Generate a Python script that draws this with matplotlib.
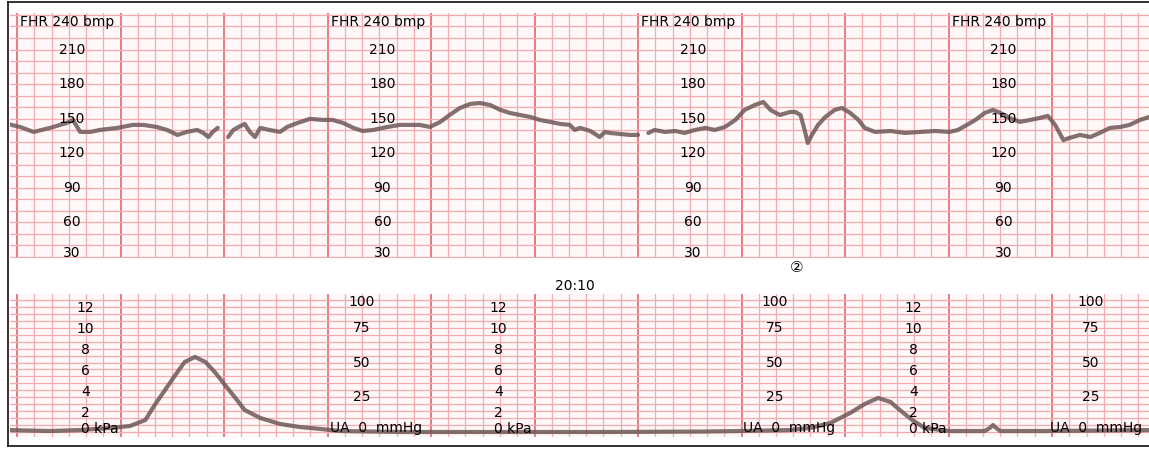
import numpy as np
import matplotlib
matplotlib.use('Agg')
import matplotlib.pyplot as plt
from matplotlib.lines import Line2D
from matplotlib.ticker import MultipleLocator

# FHR trace (time in minutes, bpm); nan = signal gap
fhr_t = [-0.09, 0.03, 0.16, 0.32, 0.48, 0.54, 0.61, 0.71, 0.80, 0.97, 1.12, 1.22, 1.35, 1.45,
         1.55, 1.64, 1.74, 1.80, 1.85, 1.89, 1.94, 1.99,
         2.04, 2.09, 2.16, 2.20, 2.25, 2.30, 2.35, 2.44, 2.54, 2.61, 2.71, 2.83, 2.96, 3.05,
         3.15, 3.25, 3.34, 3.44, 3.58, 3.70, 3.89, 3.99, 4.09, 4.18, 4.28, 4.38, 4.47, 4.57,
         4.67, 4.76, 4.86, 4.96, 5.05, 5.15, 5.25, 5.34, 5.39, 5.44, 5.54, 5.63, 5.68, 5.73,
         5.83, 5.92, 6.00, 6.05,
         6.10, 6.16, 6.26, 6.36, 6.45, 6.55, 6.65, 6.74, 6.84, 6.94, 7.03, 7.13, 7.21, 7.28,
         7.37, 7.47, 7.52, 7.57, 7.61, 7.64, 7.68, 7.74, 7.81, 7.90, 7.97, 8.05, 8.13, 8.19,
         8.29, 8.44, 8.58, 8.73, 8.87, 9.01, 9.09, 9.16, 9.26, 9.35, 9.43, 9.50, 9.59, 9.69,
         9.79, 9.88, 9.96, 10.03, 10.11, 10.17, 10.27, 10.37, 10.46, 10.56, 10.66, 10.75,
         10.85, 10.94]
fhr_bpm = [145.4, 142.8, 138.5, 142.0, 146.3, 148.9, 138.5, 138.5, 140.2, 142.0, 144.6, 144.6,
           142.8, 140.2, 135.9, 138.5, 140.2, 137.6, 134.1, 138.5, 142.0, np.nan,
           134.1, 140.2, 143.7, 145.4, 138.5, 134.1, 142.0, 140.2, 138.5, 142.8, 146.3, 149.8,
           148.9, 148.9, 146.3, 142.0, 139.3, 140.2, 142.8, 144.6, 144.6, 142.8, 147.2, 153.2,
           159.3, 162.8, 163.6, 161.9, 157.6, 155.0, 153.2, 151.5, 148.9, 147.2, 145.4, 144.6,
           140.2, 142.0, 139.3, 134.1, 138.5, 137.6, 136.7, 135.9, 135.9, np.nan,
           137.6, 140.2, 138.5, 139.3, 137.6, 140.2, 142.0, 140.2, 142.8, 148.9, 157.6, 161.9,
           164.5, 157.6, 153.2, 155.8, 155.8, 153.2, 140.2, 128.9, 135.9, 144.6, 151.5, 157.6,
           159.3, 155.0, 148.9, 142.0, 138.5, 139.3, 137.6, 138.5, 139.3, 138.5, 140.2, 143.7,
           148.9, 155.0, 157.6, 155.0, 150.6, 147.2, 148.9, 150.6, 152.4, 144.6, 131.5, 133.3,
           135.9, 134.1, 137.6, 142.0, 142.8, 144.6, 148.9, 151.5]

# UA trace (time in minutes, mmHg)
ua_t = [-0.09, 0.32, 0.61, 0.90, 1.09, 1.24, 1.33, 1.43, 1.53, 1.62, 1.72, 1.82, 1.91, 2.01,
        2.11, 2.20, 2.35, 2.54, 2.73, 2.93, 3.12, 3.70, 4.67, 5.63, 6.60, 6.99, 7.47, 7.66,
        7.86, 8.05, 8.19, 8.32, 8.44, 8.53, 8.65, 8.77, 9.01, 9.35, 9.40, 9.43, 9.46, 9.50,
        9.98, 10.94]
ua_mmhg = [1.4, 0.7, 1.4, 2.9, 4.3, 8.6, 19.4, 30.2, 41.0, 50.4, 54.0, 50.4, 43.2, 33.8,
           24.5, 15.8, 10.1, 5.8, 3.6, 2.2, 0.7, 0.0, 0.0, 0.0, 0.3, 0.7, 1.4, 2.9,
           6.5, 13.7, 20.1, 24.5, 21.6, 15.8, 8.6, 2.9, 0.7, 0.7, 2.9, 5.0, 2.9, 0.7,
           0.7, 1.4]

fhr_scale = [210, 180, 150, 120, 90, 60, 30]
fhr_label_start = [0, 3, 6, 9]
kpa_scale = [12, 10, 8, 6, 4, 2]
kpa_label_at = [0.66, 4.65, 8.66]
mmhg_scale = [100, 75, 50, 25]
mmhg_label_at = [3.33, 7.32, 10.37]
ua_label_start = [3.02, 7.01, 9.98]

W, H = 1149, 449
MINOR = '#f3aab0'
MAJOR = '#e7707c'
TRACE = '#6e5858'
BG = '#fff8f8'

fig = plt.figure(figsize=(W / 100, H / 100), dpi=100, facecolor='white')


def px_axes(x0, y0, x1, y1):
    return fig.add_axes([x0 / W, 1 - y1 / H, (x1 - x0) / W, (y1 - y0) / H])


def px_to_min(x):
    return (x - 17) / 103.5


def paper(ax, ystep):
    ax.set_facecolor(BG)
    ax.xaxis.set_major_locator(MultipleLocator(1))
    ax.xaxis.set_minor_locator(MultipleLocator(1 / 6))
    ax.yaxis.set_major_locator(MultipleLocator(ystep))
    ax.yaxis.set_minor_locator(MultipleLocator(ystep))
    ax.grid(which='minor', color=MINOR, lw=0.9)
    ax.grid(which='major', axis='y', color=MINOR, lw=0.9)
    ax.grid(which='major', axis='x', color=MAJOR, lw=1.3)
    ax.set_axisbelow(True)
    ax.tick_params(which='both', length=0, labelleft=False, labelbottom=False)
    for s in ax.spines.values():
        s.set_visible(False)


xlim = (px_to_min(10), px_to_min(1149))

# ---- FHR panel
ax1 = px_axes(10, 13, 1149, 258)
paper(ax1, 10)
ax1.set_xlim(*xlim)
ax1.set_ylim(29.1, 241.7)
ax1.plot(fhr_t, fhr_bpm, color=TRACE, lw=3.0, alpha=0.85, solid_capstyle='round', zorder=2)
for t0 in fhr_label_start:
    ax1.text(t0 + 0.03, 234, 'FHR 240 bmp', fontsize=10, va='center', ha='left', zorder=3)
    for v in fhr_scale:
        yy = v if v > 30 else 33.5
        ax1.text(t0 + 0.53, yy, str(v), fontsize=10, va='center', ha='center', zorder=3)

# ---- UA panel
ax2 = px_axes(10, 294, 1149, 437)
paper(ax2, 5)
ax2.set_xlim(*xlim)
ax2.set_ylim(-3.6, 99.3)
ax2.plot(ua_t, ua_mmhg, color=TRACE, lw=3.0, alpha=0.85, solid_capstyle='round', zorder=2)
for t0 in kpa_label_at:
    for v in kpa_scale:
        ax2.text(t0, v * 7.5 - 1.0, str(v), fontsize=10, va='center', ha='center', zorder=3)
    ax2.text(t0 - 0.04, 2.2, '0 kPa', fontsize=10, va='center', ha='left', zorder=3)
for t0, s0 in zip(mmhg_label_at, ua_label_start):
    for v in mmhg_scale:
        yy = min(v, 93.5)
        ax2.text(t0, yy, str(v), fontsize=10, va='center', ha='center', zorder=3)
    ax2.text(s0, 2.9, 'UA  0  mmHg', fontsize=10, va='center', ha='left', zorder=3)

# ---- gap texts
fig.text(575 / W, 1 - 286 / H, '20:10', fontsize=10, ha='center', va='center')
fig.text(797 / W, 1 - 267 / H, '\u2461', fontsize=11, ha='center', va='center',
         family=['DejaVu Sans', 'Noto Sans CJK SC'])

# ---- border
for xs, ys in [((8, 8), (2, 446)), ((8, 1149), (2, 2)), ((8, 1149), (446, 446))]:
    fig.add_artist(Line2D([x / W for x in xs], [1 - y / H for y in ys],
                          color='#222222', lw=1.3))

fig.savefig('out.png', dpi=100, facecolor='white')
